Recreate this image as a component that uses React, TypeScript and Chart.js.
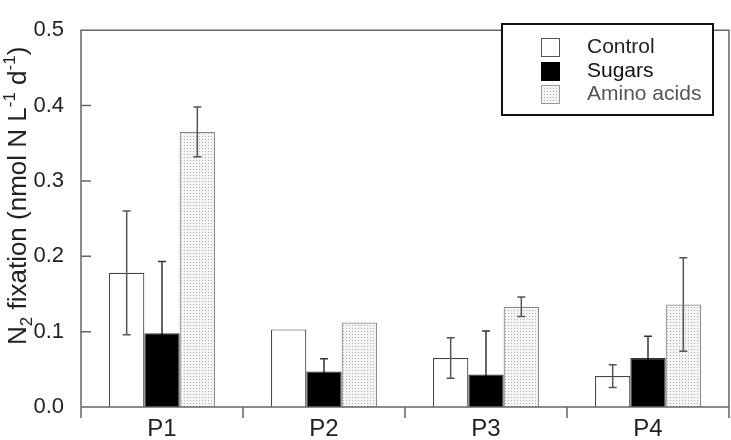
import React, { useEffect, useRef } from "react";
import { Chart, registerables } from "chart.js";

Chart.register(...registerables);

const categories = ["P1", "P2", "P3", "P4"];
const seriesNames = ["Control", "Sugars", "Amino acids"];
const controlValues = [0.178, 0.103, 0.065, 0.041];
const controlErrors: (number | null)[] = [0.082, null, 0.027, 0.015];
const sugarsValues = [0.098, 0.047, 0.043, 0.065];
const sugarsErrors: (number | null)[] = [0.095, 0.017, 0.058, 0.029];
const aminoValues = [0.365, 0.112, 0.133, 0.136];
const aminoErrors: (number | null)[] = [0.033, null, 0.013, 0.062];
const yTicks = [0, 0.1, 0.2, 0.3, 0.4, 0.5];

const FONT = "'Liberation Sans', Arial, sans-serif";

function makeDotPattern(): CanvasPattern | string {
  const c = document.createElement("canvas");
  c.width = 3;
  c.height = 3;
  const g = c.getContext("2d");
  if (!g) return "#e8e8e8";
  g.fillStyle = "#f4f4f4";
  g.fillRect(0, 0, 3, 3);
  g.fillStyle = "#b0b0b0";
  g.fillRect(1, 1, 1, 1);
  const p = g.createPattern(c, "repeat");
  return p || "#e8e8e8";
}

export default function App() {
  const canvasRef = useRef<HTMLCanvasElement | null>(null);

  useEffect(() => {
    document.body.style.margin = "0";
    const canvas = canvasRef.current;
    if (!canvas) return;
    const pattern = makeDotPattern();
    const errors = [controlErrors, sugarsErrors, aminoErrors];
    const fills: any[] = ["#ffffff", "#000000", pattern];
    const borders = ["#444444", "#333333", "#888888"];

    const framePlugin = {
      id: "frame",
      afterDraw(chart: any) {
        const ctx = chart.ctx;
        const { left, right, top, bottom } = chart.chartArea;
        const ys = chart.scales.y;
        const xs = chart.scales.x;
        ctx.save();
        ctx.strokeStyle = "#666666";
        ctx.lineWidth = 1.5;
        ctx.beginPath();
        ctx.moveTo(left, bottom + 11);
        ctx.lineTo(left, top);
        ctx.lineTo(right, top);
        ctx.lineTo(right, bottom + 11);
        ctx.moveTo(left, bottom);
        ctx.lineTo(right, bottom);
        yTicks.forEach((v) => {
          const py = ys.getPixelForValue(v);
          ctx.moveTo(left, py);
          ctx.lineTo(left + 10, py);
        });
        for (let i = 1; i < categories.length; i++) {
          const px = (xs.getPixelForValue(i - 1) + xs.getPixelForValue(i)) / 2;
          ctx.moveTo(px, bottom);
          ctx.lineTo(px, bottom + 11);
        }
        ctx.stroke();

        // y axis title with sub/superscripts
        ctx.fillStyle = "#222222";
        ctx.translate(26, 345);
        ctx.rotate(-Math.PI / 2);
        ctx.textBaseline = "alphabetic";
        ctx.textAlign = "left";
        const parts: [string, number, number][] = [
          ["N", 26, 0],
          ["2", 17, 6],
          [" fixation (nmol N L", 26, 0],
          ["-1", 17, -11],
          [" d", 26, 0],
          ["-1", 17, -11],
          [")", 26, 0],
        ];
        let xpos = 0;
        parts.forEach(([t, size, dy]) => {
          ctx.font = `${size}px ${FONT}`;
          ctx.fillText(t, xpos, dy);
          xpos += ctx.measureText(t).width;
        });
        ctx.restore();

        // legend
        ctx.save();
        ctx.fillStyle = "#ffffff";
        ctx.fillRect(502, 24, 211, 91);
        ctx.strokeStyle = "#111111";
        ctx.lineWidth = 2;
        ctx.strokeRect(502, 24, 211, 91);
        const rowsY = [38, 62, 85];
        const textColors = ["#222222", "#111111", "#555555"];
        const legendBorders = ["#555555", "#000000", "#999999"];
        seriesNames.forEach((name, i) => {
          ctx.fillStyle = fills[i];
          ctx.fillRect(541, rowsY[i], 18, 18);
          ctx.strokeStyle = legendBorders[i];
          ctx.lineWidth = 1;
          ctx.strokeRect(541.5, rowsY[i] + 0.5, 18, 18);
          ctx.fillStyle = textColors[i];
          ctx.font = `21px ${FONT}`;
          ctx.textBaseline = "middle";
          ctx.textAlign = "left";
          ctx.fillText(name, 587, rowsY[i] + 9);
        });
        ctx.restore();
      },
    };

    const errorPlugin = {
      id: "errbars",
      afterDatasetsDraw(chart: any) {
        const ctx = chart.ctx;
        const ys = chart.scales.y;
        ctx.save();
        chart.data.datasets.forEach((ds: any, i: number) => {
          const meta = chart.getDatasetMeta(i);
          const errs = errors[i];
          ds.data.forEach((v: number, j: number) => {
            const e = errs[j];
            if (e == null) return;
            const x = meta.data[j].x;
            const yV = ys.getPixelForValue(v);
            const yT = ys.getPixelForValue(v + e);
            const clipped = v - e < 0;
            const yB = ys.getPixelForValue(Math.max(0, v - e));
            ctx.lineWidth = 1.5;
            ctx.strokeStyle = i === 1 ? "#333333" : "#555555";
            ctx.beginPath();
            ctx.moveTo(x, yV);
            ctx.lineTo(x, yT);
            ctx.moveTo(x - 4, yT);
            ctx.lineTo(x + 4, yT);
            ctx.stroke();
            ctx.strokeStyle = i === 1 ? "#000000" : "#555555";
            ctx.beginPath();
            ctx.moveTo(x, yV);
            ctx.lineTo(x, yB);
            if (!clipped) {
              ctx.moveTo(x - 4, yB);
              ctx.lineTo(x + 4, yB);
            }
            ctx.stroke();
          });
        });
        ctx.restore();
      },
    };

    const chart = new Chart(canvas, {
      type: "bar",
      data: {
        labels: categories,
        datasets: [
          { label: seriesNames[0], data: controlValues, backgroundColor: fills[0], borderColor: borders[0], borderWidth: 1.2 },
          { label: seriesNames[1], data: sugarsValues, backgroundColor: fills[1], borderColor: borders[1], borderWidth: 1.2 },
          { label: seriesNames[2], data: aminoValues, backgroundColor: fills[2], borderColor: borders[2], borderWidth: 1.2 },
        ],
      },
      options: {
        animation: false,
        responsive: false,
        maintainAspectRatio: false,
        datasets: { bar: { barPercentage: 1, categoryPercentage: 0.654 } },
        layout: { padding: { top: 14, right: 2, left: 0, bottom: 0 } },
        plugins: { legend: { display: false }, tooltip: { enabled: false }, title: { display: false } },
        scales: {
          x: {
            grid: { display: false, drawTicks: false },
            border: { display: false },
            ticks: { font: { size: 24, family: FONT }, color: "#222222", padding: 8 },
            afterFit: (s: any) => { s.height = 33; },
          },
          y: {
            min: 0,
            max: 0.5,
            grid: { display: false, drawTicks: false },
            border: { display: false },
            ticks: {
              stepSize: 0.1,
              font: { size: 22, family: FONT },
              color: "#222222",
              padding: 17,
              callback: (v: any) => Number(v).toFixed(1),
            },
            afterFit: (s: any) => { s.width = 81; },
          },
        },
      },
      plugins: [errorPlugin, framePlugin],
    });
    return () => chart.destroy();
  }, []);

  return (
    <div style={{ width: 731, height: 440 }}>
      <canvas ref={canvasRef} width={731} height={440} style={{ display: "block" }} />
    </div>
  );
}
